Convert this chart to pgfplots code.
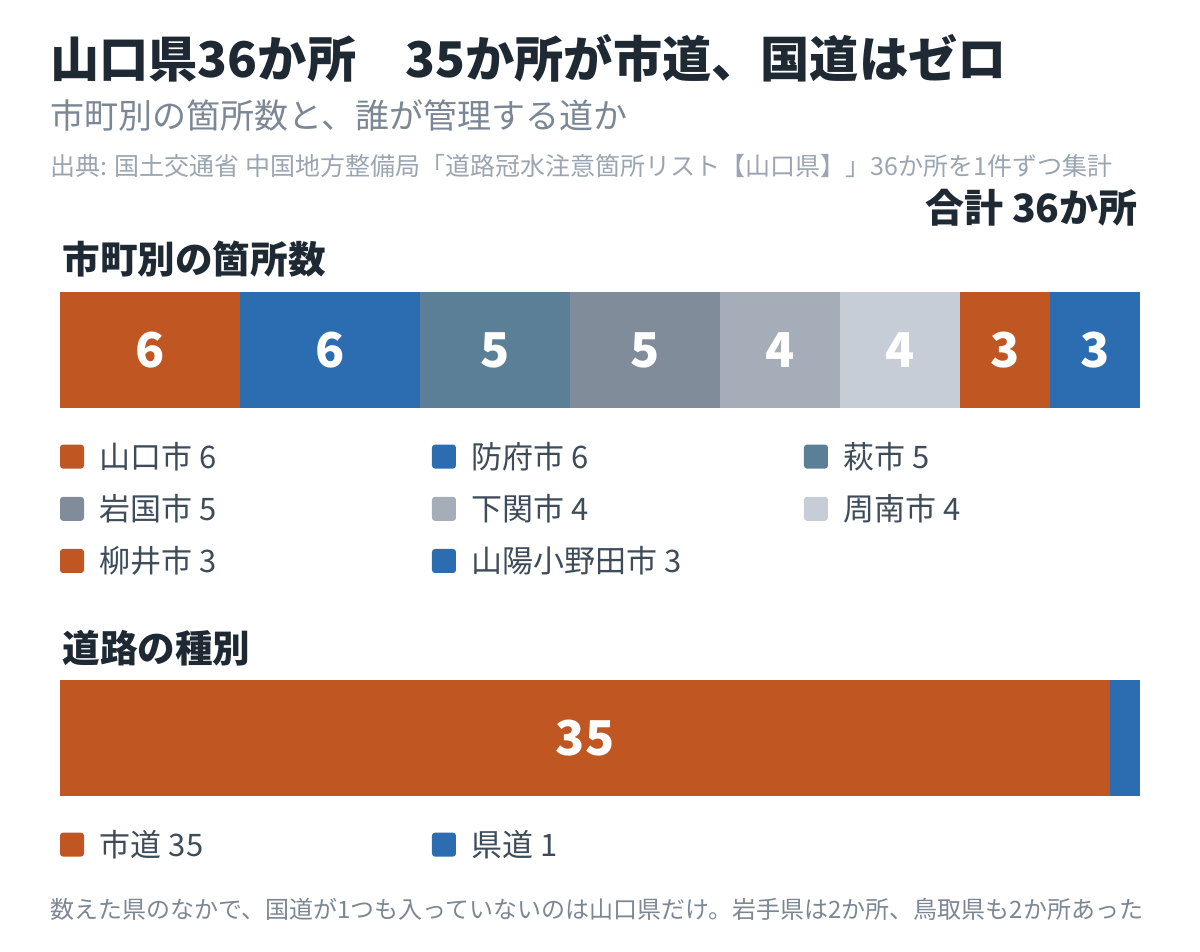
\documentclass[border=0pt]{standalone}
\usepackage{pgfplots}
\pgfplotsset{compat=1.18}
\usepackage{fontspec}
\setmainfont{Noto Sans CJK JP}

\definecolor{cOrange}{RGB}{192,87,34}
\definecolor{cBlue}{RGB}{44,108,176}
\definecolor{cSteel}{RGB}{91,127,150}
\definecolor{cSlate}{RGB}{128,140,153}
\definecolor{cLight}{RGB}{165,174,184}
\definecolor{cLighter}{RGB}{198,205,214}
\definecolor{cInk}{RGB}{31,41,51}
\definecolor{cGray}{RGB}{123,135,148}
\definecolor{cPale}{RGB}{154,165,177}
\definecolor{cLegend}{RGB}{62,76,89}

\newcommand{\fs}[1]{\fontsize{#1}{#1}\selectfont}
% 8pt gap after the swatch, columns 186pt apart
\newcommand{\legtext}[1]{\makebox[174pt][l]{\hspace{8pt}#1}}

\pgfplotsset{
  stackbar/.style={
    xbar stacked, hide axis, scale only axis,
    width=540pt, height=58pt,
    xmin=0, xmax=36, ymin=-0.5, ymax=0.5,
    bar width=58pt, enlargelimits=false, clip=false,
    point meta=explicit symbolic,
    nodes near coords style={font=\fs{24pt}\bfseries, text=white, anchor=center},
    legend columns=3,
    legend cell align=left,
    legend style={draw=none, fill=none, inner sep=0pt, outer sep=0pt,
      at={(0,0)}, anchor=north west, yshift=-17pt,
      column sep=0pt, row sep=11.5pt,
      nodes={inner sep=0pt},
      font=\fs{15.5pt}, text=cLegend,
      /tikz/every even column/.style={column sep=0pt},
      /tikz/every odd column/.style={column sep=0pt}},
    legend image code/.code={\fill[##1, draw=none, rounded corners=1.5pt] (0pt,-6pt) rectangle (12pt,6pt);},
  },
  seg/.style={fill=#1, draw=none, nodes near coords},
  plain/.style={fill=#1, draw=none},
}

\begin{document}
\begin{tikzpicture}
\path[use as bounding box] (0,0) rectangle (600pt,-476pt);

% titles
\node[anchor=base west, inner sep=0, font=\fs{24.6pt}\bfseries, text=cInk] at (25pt,-39pt) {山口県36か所　35か所が市道、国道はゼロ};
\node[anchor=base west, inner sep=0, font=\fs{17pt}, text=cGray] at (25pt,-64.5pt) {市町別の箇所数と、誰が管理する道か};
\node[anchor=base west, inner sep=0, font=\fs{12.5pt}, text=cPale] at (25pt,-88pt) {出典: 国土交通省 中国地方整備局「道路冠水注意箇所リスト【山口県】」36か所を1件ずつ集計};
\node[anchor=base east, inner sep=0, font=\fs{19.5pt}\bfseries, text=cInk] at (569pt,-111.5pt) {合計 36か所};
\node[anchor=base west, inner sep=0, font=\fs{18.8pt}\bfseries, text=cInk] at (31pt,-137pt) {市町別の箇所数};
\node[anchor=base west, inner sep=0, font=\fs{18.8pt}\bfseries, text=cInk] at (31pt,-331pt) {道路の種別};
\node[anchor=base west, inner sep=0, font=\fs{12pt}, text=cGray] at (25pt,-459pt) {数えた県のなかで、国道が1つも入っていないのは山口県だけ。岩手県は2か所、鳥取県も2か所あった};

% municipalities
\begin{axis}[stackbar, at={(30pt,-204pt)}, anchor=south west]
\addplot[seg=cOrange]  coordinates {(6,0) [6]};
\addplot[seg=cBlue]    coordinates {(6,0) [6]};
\addplot[seg=cSteel]   coordinates {(5,0) [5]};
\addplot[seg=cSlate]   coordinates {(5,0) [5]};
\addplot[seg=cLight]   coordinates {(4,0) [4]};
\addplot[seg=cLighter] coordinates {(4,0) [4]};
\addplot[seg=cOrange]  coordinates {(3,0) [3]};
\addplot[seg=cBlue]    coordinates {(3,0) [3]};
\addlegendentry{\legtext{山口市 6}}
\addlegendentry{\legtext{防府市 6}}
\addlegendentry{\legtext{萩市 5}}
\addlegendentry{\legtext{岩国市 5}}
\addlegendentry{\legtext{下関市 4}}
\addlegendentry{\legtext{周南市 4}}
\addlegendentry{\legtext{柳井市 3}}
\addlegendentry{\legtext{山陽小野田市 3}}
\end{axis}

% road type
\begin{axis}[stackbar, at={(30pt,-398pt)}, anchor=south west]
\addplot[seg=cOrange]   coordinates {(35,0) [35]};
\addplot[plain=cBlue]   coordinates {(1,0) []};
\addlegendentry{\legtext{市道 35}}
\addlegendentry{\legtext{県道 1}}
\end{axis}
\end{tikzpicture}
\end{document}
